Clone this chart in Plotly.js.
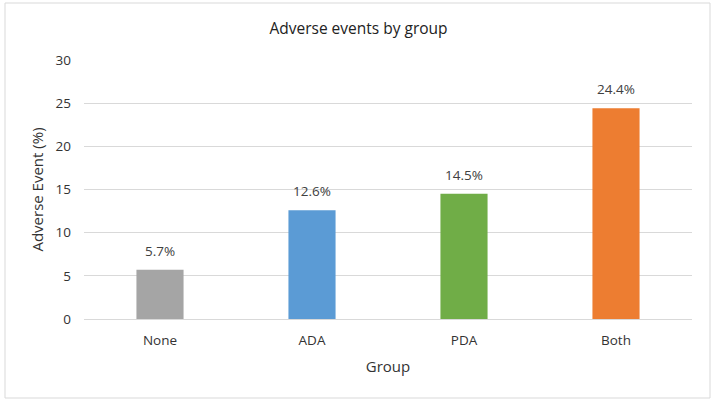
<!DOCTYPE html>
<html>
<head>
<meta charset="utf-8">
<script src="https://cdn.plot.ly/plotly-3.0.1.min.js"></script>
<style>html,body{margin:0;padding:0;background:#fff;}#chart{width:717px;height:403px;}</style>
</head>
<body>
<div id="chart"></div>
<script>
const categories = ["None", "ADA", "PDA", "Both"];
const values = [5.7, 12.6, 14.5, 24.4];
const labels = ["5.7%", "12.6%", "14.5%", "24.4%"];
const colors = ["#A5A5A5", "#5B9BD5", "#70AD47", "#ED7D31"];
const yTicks = [0, 5, 10, 15, 20, 25, 30];

const font = "Open Sans, sans-serif";
const trace = {
  type: "bar",
  x: categories,
  y: values,
  marker: {color: colors},
  hoverinfo: "none"
};
const annotations = categories.map((c, i) => ({
  x: c, y: values[i], xref: "x", yref: "y",
  text: labels[i], showarrow: false,
  yanchor: "bottom", yshift: 8,
  font: {family: font, size: 13.5, color: "#404040"}
}));
const layout = {
  width: 717, height: 403,
  margin: {l: 84, r: 25, t: 60, b: 84},
  paper_bgcolor: "#fff", plot_bgcolor: "#fff",
  bargap: 0.69,
  showlegend: false,
  title: {text: "Adverse events by group", font: {family: font, size: 15.5, color: "#222"}, x: 0.5, xanchor: "center", y: 0.93, yanchor: "middle"},
  xaxis: {
    title: {text: "Group", font: {family: font, size: 15, color: "#333"}, standoff: 13},
    tickfont: {family: font, size: 13.5, color: "#333"},
    ticklabelstandoff: 9,
    showline: true, linecolor: "#D9D9D9", linewidth: 1,
    ticks: "", showgrid: false, fixedrange: true
  },
  yaxis: {
    title: {text: "Adverse Event (%)", font: {family: font, size: 15, color: "#333"}, standoff: 8},
    tickfont: {family: font, size: 13.5, color: "#333"},
    ticklabelstandoff: 12,
    range: [0, 30], tickvals: yTicks, ticktext: yTicks.map(String),
    showgrid: true, gridcolor: "#D9D9D9", gridwidth: 1,
    zeroline: false, showline: false, ticks: "", ticklen: 0, fixedrange: true
  },
  annotations: annotations,
  shapes: [{
    type: "rect", xref: "paper", yref: "paper",
    x0: -79/608, x1: 626/608, y0: -79/259, y1: 1 + 57/259,
    line: {color: "#D9D9D9", width: 1}, fillcolor: "rgba(0,0,0,0)", layer: "below"
  }]
};
Plotly.newPlot("chart", [trace], layout, {displayModeBar: false, staticPlot: true});
</script>
</body>
</html>
